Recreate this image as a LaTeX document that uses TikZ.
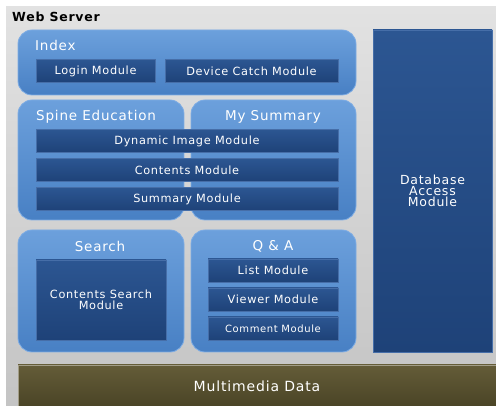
\documentclass[tikz,border=0pt]{standalone}
\usepackage{fontspec}
\setmainfont{DejaVu Sans}[LetterSpace=6]
\usetikzlibrary{positioning}

\definecolor{panelTop}{RGB}{108,160,220}
\definecolor{panelBot}{RGB}{72,128,196}
\definecolor{panelLine}{RGB}{125,172,228}
\definecolor{modTop}{RGB}{44,86,146}
\definecolor{modBot}{RGB}{30,66,120}
\definecolor{modLine}{RGB}{70,110,168}
\definecolor{mediaTop}{RGB}{100,92,56}
\definecolor{mediaBot}{RGB}{74,68,38}
\definecolor{srvTop}{RGB}{226,226,226}
\definecolor{srvBot}{RGB}{196,196,196}

\begin{document}
\begin{tikzpicture}[x=1pt,y=-1pt,node distance=29pt,
    panel/.style={rounded corners=14pt,top color=panelTop,bottom color=panelBot,
      draw=panelLine,line width=0.8pt,inner sep=0pt},
    ptitle/.style={text=white,font=\fontsize{13.5}{15}\selectfont,inner sep=0pt},
    module/.style={top color=modTop,bottom color=modBot,draw=modLine,line width=0.8pt,
      text=white,font=\fontsize{11.3}{13}\selectfont,minimum height=23pt,inner sep=0pt,align=center}]
  \useasboundingbox (0,0) rectangle (496,406);
  \fill[white] (0,0) rectangle (496,406);
  \shade[top color=srvTop,bottom color=srvBot] (6,7) rectangle (496,406);
  \node[anchor=west,font=\bfseries\fontsize{12.5}{14}\selectfont,inner sep=0pt] (ws) at (12,17) {Web Server};

  % panels
  \node[panel,minimum width=338pt,minimum height=65pt] (index) at (187,62.5) {};
  \node[panel,minimum width=166pt,minimum height=120pt] (spine) at (101,160) {};
  \node[panel,minimum width=165pt,minimum height=120pt] (summ) at (273.5,160) {};
  \node[panel,minimum width=166pt,minimum height=122pt] (search) at (101,291) {};
  \node[panel,minimum width=165pt,minimum height=122pt] (qa) at (273.5,291) {};

  \node[ptitle,anchor=west] (indexT) at (35,45) {Index};
  \node[ptitle,anchor=west] (spineT) at (36,117) {Spine Education};
  \node[ptitle] (summT) at (273,117) {My Summary};
  \node[ptitle] (searchT) at (100,246) {Search};
  \node[ptitle] (qaT) at (273,246) {Q \& A};

  % modules
  \node[module,minimum width=119pt] (login) at (95.5,71) {Login Module};
  \node[module,minimum width=173pt] (device) at (251.5,71) {Device Catch Module};

  \node[module,minimum width=302pt] (dyn) at (187,141) {Dynamic Image Module};
  \node[module,minimum width=302pt] (cont) [below of=dyn] {Contents Module};
  \node[module,minimum width=302pt] (sumM) [below of=cont] {Summary Module};

  \node[module,minimum width=130pt,minimum height=80pt] (csearch) at (101,300) {Contents Search\\[-2pt]Module};

  \node[module,minimum width=130pt] (list) at (273,270.5) {List Module};
  \node[module,minimum width=130pt] (viewer) [below of=list] {Viewer Module};
  \node[module,minimum width=130pt,font=\fontsize{10}{11}\selectfont] (comment) [below of=viewer] {Comment Module};

  \node[module,minimum width=119pt,minimum height=322pt,font=\fontsize{12.5}{14}\selectfont] (db) at (432.5,191) {Database\\[-3pt]Access\\[-3pt]Module};

  \node[module,top color=mediaTop,bottom color=mediaBot,draw=mediaTop!60!white,
    minimum width=478pt,minimum height=42pt,font=\fontsize{14}{16}\selectfont] (media) at (257,386) {Multimedia Data};
\end{tikzpicture}
\end{document}
